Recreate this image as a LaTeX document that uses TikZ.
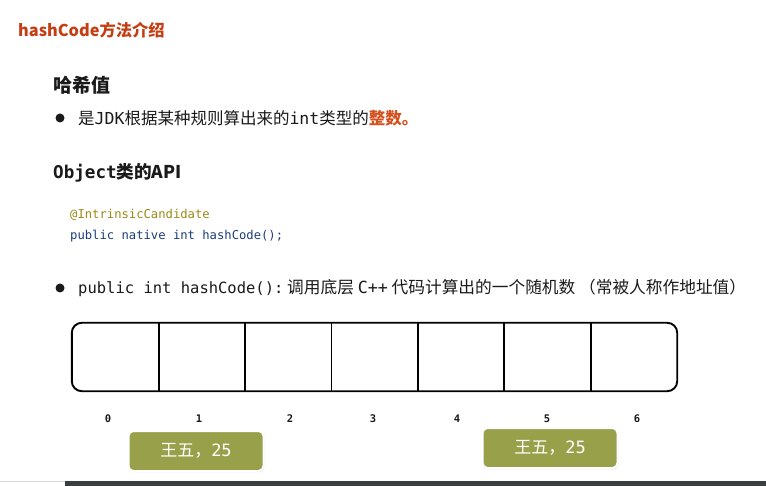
\documentclass[tikz,border=0pt]{standalone}
\usepackage{fontspec}
\usetikzlibrary{shadows}
\setmainfont{Noto Sans CJK SC}
\setmonofont{DejaVu Sans Mono}
\definecolor{titlered}{HTML}{C53D13}
\definecolor{hiorange}{HTML}{D4511E}
\definecolor{annot}{HTML}{9B8A17}
\definecolor{codeblue}{HTML}{1C3D7A}
\definecolor{olivebox}{HTML}{98A14A}
\definecolor{txt}{HTML}{1A1A1A}
\definecolor{barDark}{HTML}{3B3F40}
\begin{document}
\begin{tikzpicture}[x=1pt,y=-1pt,
  lbl/.style={anchor=west,inner sep=0pt,text=txt},
  bulletdot/.style={circle,fill=txt,minimum size=9pt,inner sep=0pt},
  idx/.style={inner sep=0pt,font=\fontsize{10.5}{11}\selectfont\ttfamily\bfseries,text=txt},
  cell/.style={minimum width=86.43pt,minimum height=68pt,inner sep=0pt},
  divider/.style={line width=1.9pt,black},
  greenbox/.style={draw=white,line width=2pt,fill=olivebox,rounded corners=5pt,minimum width=135pt,minimum height=40pt,text=white,font=\fontsize{17}{18}\selectfont,
    drop shadow={shadow xshift=0.8pt,shadow yshift=-1.2pt,opacity=0.35}}
]
\useasboundingbox (0,0) rectangle (766,486);
\fill[white] (0,0) rectangle (766,486);
% bottom bar
\fill[barDark] (65,481) rectangle (766,486);
\fill[gray!30] (0,481) rectangle (65,482);

% title
\node[lbl,text=titlered,font=\fontsize{16.3}{18}\selectfont\bfseries] (title) at (18,30) {hashCode方法介绍};

% heading 1
\node[lbl,font=\fontsize{19}{21}\selectfont\bfseries] (h1) at (53,85) {哈希值};

% bullet 1
\node[bulletdot] (b1) at (60,118) {};
\node[lbl,font=\fontsize{16.5}{18}\selectfont] (t1) at (78,118) {是\texttt{JDK}根据某种规则算出来的\texttt{int}类型的\textcolor{hiorange}{\bfseries 整数。}};

% heading 2
\node[lbl,font=\fontsize{17.6}{19}\selectfont\bfseries] (h2) at (53,173) {\texttt{\bfseries Object}类的API};

% code
\node[lbl,text=annot,font=\fontsize{12.2}{14}\selectfont\ttfamily] (c1) at (70,215) {@IntrinsicCandidate};
\node[lbl,text=codeblue,font=\fontsize{12.2}{14}\selectfont\ttfamily] (c2) at (70,236) {public native int hashCode();};

% bullet 2
\node[bulletdot] (b2) at (60,288) {};
\node[lbl,font=\fontsize{16.7}{18}\selectfont] (t2) at (78,288) {\fontsize{15.5}{18}\selectfont\texttt{public int hashCode():}\fontsize{16.7}{18}\selectfont\ 调用底层 \texttt{C++} 代码计算出的一个随机数 （常被人称作地址值）};

% array
\foreach \i in {0,...,6}{
  \node[cell] (cell\i) at ({72+86.43*(\i+0.5)},357) {};
}
\foreach \i in {0,...,5}{
  \draw[divider] (cell\i.north east) -- (cell\i.south east);
}
\draw[line width=1.9pt,rounded corners=10pt] (cell0.north west) rectangle (cell6.south east);

% index labels
\node[idx] (i0) at (108,419) {0};
\node[idx] (i1) at (199,419) {1};
\node[idx] (i2) at (290,419) {2};
\node[idx] (i3) at (373,419) {3};
\node[idx] (i4) at (457,419) {4};
\node[idx] (i5) at (547,419) {5};
\node[idx] (i6) at (637,419) {6};

% green boxes
\node[greenbox] (g1) at (196,451) {王五，\texttt{25}};
\node[greenbox] (g2) at (550,448) {王五，\texttt{25}};
\end{tikzpicture}
\end{document}
